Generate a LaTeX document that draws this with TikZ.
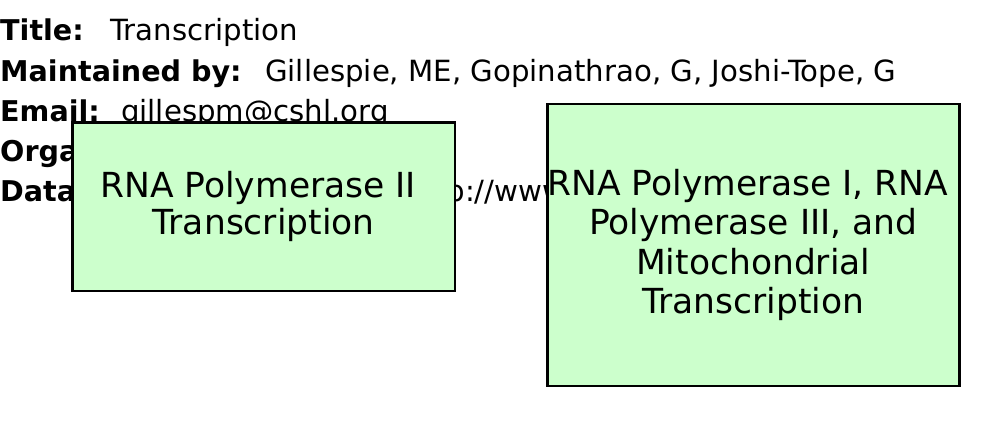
\documentclass[tikz,border=0pt]{standalone}
\usepackage{fontspec}
\setmainfont{DejaVu Sans}
\definecolor{boxgreen}{HTML}{CCFFCC}
\tikzset{
  hdrlabel/.style={anchor=base west, inner sep=0pt, font=\fontsize{28.6}{33}\selectfont\bfseries},
  hdrvalue/.style={anchor=base west, inner sep=0pt, font=\fontsize{29.2}{33}\selectfont},
  pathbox/.style={draw=black, line width=2.8pt, fill=boxgreen, align=center, inner sep=0pt}
}
\begin{document}
\begin{tikzpicture}[x=1pt,y=-1pt]
\useasboundingbox (0,0) rectangle (1000,427);
% header
\node[hdrlabel] (tl) at (0,41) {Title:};
\node[hdrvalue] (tv) at (110,41) {Transcription};
\node[hdrlabel] (ml) at (0,81.5) {Maintained by:};
\node[hdrvalue] (mv) at (265,81.5) {Gillespie, ME, Gopinathrao, G, Joshi-Tope, G};
\node[hdrlabel] (el) at (0,121.5) {Email:};
\node[hdrvalue] (ev) at (121,121.5) {gillespm@cshl.org};
\node[hdrlabel] (ol) at (0,161.5) {Organism:};
\node[hdrlabel] (dl) at (0,201.5) {Data Source:};
\node[hdrvalue] (dv) at (405,201.5) {http://www};
% boxes
\node[pathbox, minimum width=382.7pt, minimum height=168.7pt,
      font=\fontsize{34.5}{37.5}\selectfont] (pol2) at (263.7,206.7)
  {RNA Polymerase II\hspace*{0.32em}\\Transcription};
\node[pathbox, minimum width=412pt, minimum height=282pt,
      font=\fontsize{34.5}{39.5}\selectfont] (pol13) at (753.3,245)
  {RNA Polymerase I, RNA\hspace*{0.32em}\\Polymerase III, and\hspace*{0.32em}\\Mitochondrial\hspace*{0.32em}\\Transcription};
\end{tikzpicture}
\end{document}
